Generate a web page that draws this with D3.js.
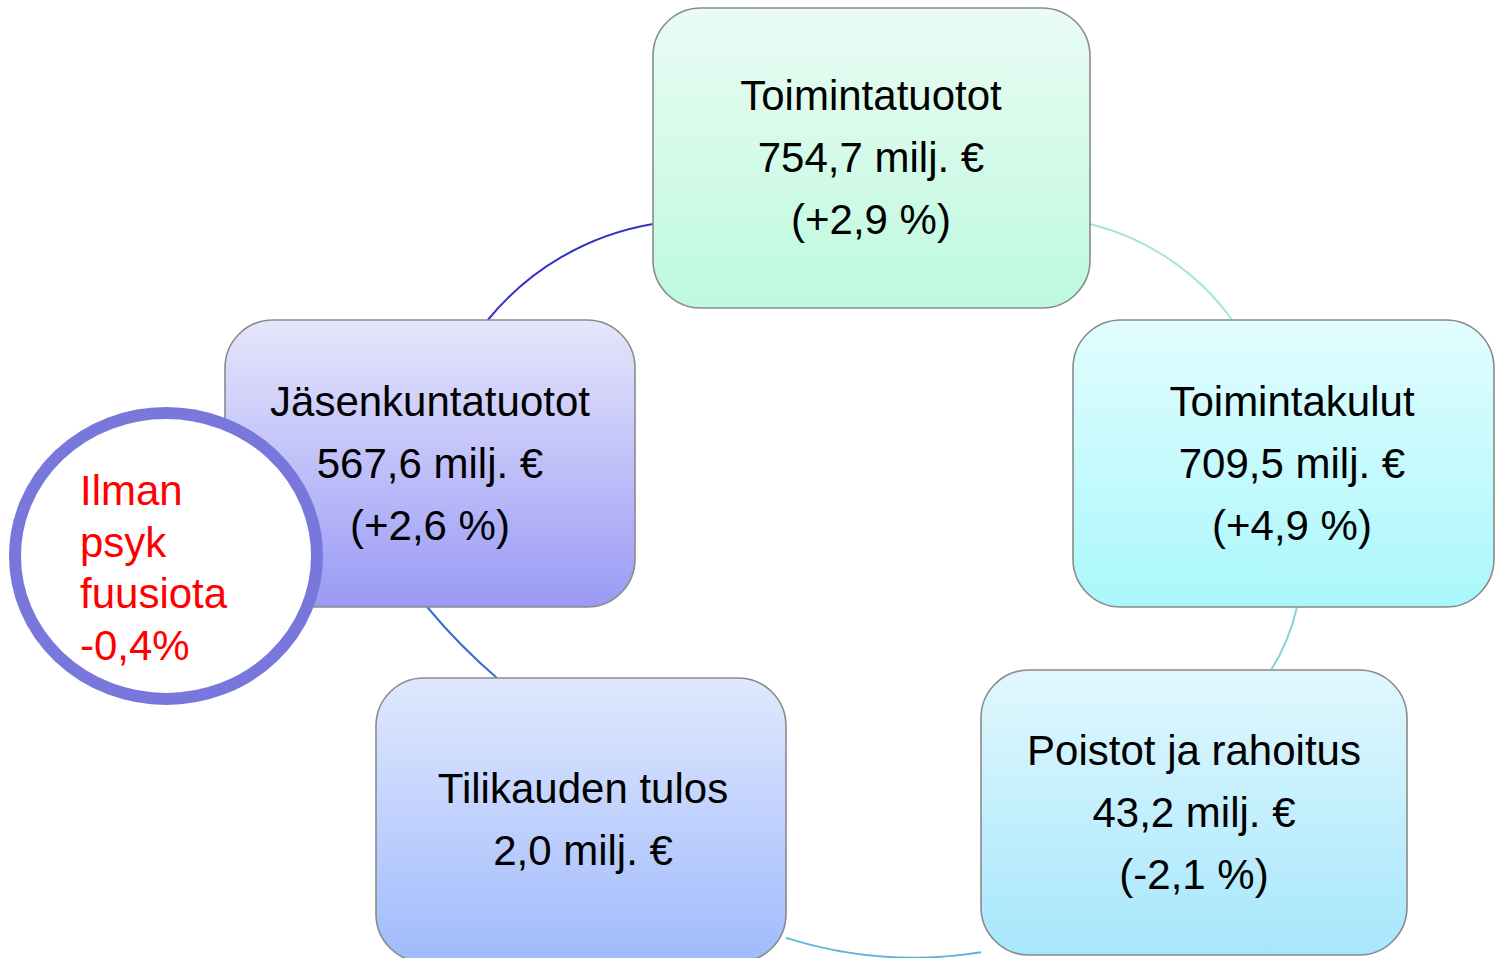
<!DOCTYPE html>
<html><head><meta charset="utf-8">
<script src="https://cdn.jsdelivr.net/npm/d3@7"></script>
<style>body{margin:0;background:#fff;overflow:hidden}svg{display:block}</style>
</head><body><svg id="c" width="1495" height="958"></svg>
<script>
// ---- data ----
const labels  = ["Toimintatuotot", "Toimintakulut", "Poistot ja rahoitus", "Tilikauden tulos", "Jäsenkuntatuotot"];
const values  = [754.7, 709.5, 43.2, 2.0, 567.6];          // milj. €
const changes = [2.9, 4.9, -2.1, null, 2.6];               // % change
const noteLines = ["Ilman", "psyk", "fuusiota"];
const noteValue = -0.4;                                     // % without psych fusion

// ---- layout (positions / styles) ----
const boxes = [
  {x: 653,  y: 8,   w: 437, h: 300, tx: 871,  c0: "#eafcf4", c1: "#bdf9de"},
  {x: 1073, y: 320, w: 421, h: 287, tx: 1292, c0: "#e2fdff", c1: "#aaf7fb"},
  {x: 981,  y: 670, w: 426, h: 285, tx: 1194, c0: "#e1f7fe", c1: "#a6e7fc"},
  {x: 376,  y: 678, w: 410, h: 284, tx: 583,  c0: "#dfe8fe", c1: "#a0bafb"},
  {x: 225,  y: 320, w: 410, h: 287, tx: 430,  c0: "#e6e6fc", c1: "#9a9af6"}
];
const connectors = [
  {from: 4, fs: "top",    ft: 0.641, to: 0, ts: "left",  tt: 0.72,  r: 271, color: "#3232c8"},
  {from: 0, fs: "right",  ft: 0.72,  to: 1, ts: "top",   tt: 0.378, r: 248, color: "#a6e6d2"},
  {from: 1, fs: "bottom", ft: 0.532, to: 2, ts: "top",   tt: 0.681, r: 200, color: "#7ed8d6"},
  {from: 2, fs: "left",   ft: 0.99,  to: 3, ts: "right", tt: 0.915, r: 424, color: "#5cb2da"},
  {from: 3, fs: "top",    ft: 0.295, to: 4, ts: "bottom",tt: 0.493, r: 600, color: "#3a6ed0"}
];

const fi = d3.formatLocale({decimal: ",", thousands: "\u00a0", grouping: [3], currency: ["", " €"], minus: "-"});
const fVal = fi.format(".1f");
const fChg = fi.format("+.1f");

const svg = d3.select("#c");
const defs = svg.append("defs");
boxes.forEach((b, i) => {
  const g = defs.append("linearGradient").attr("id", "g" + i)
    .attr("x1", 0).attr("y1", 0).attr("x2", 0).attr("y2", 1);
  g.append("stop").attr("offset", "0%").attr("stop-color", b.c0);
  g.append("stop").attr("offset", "100%").attr("stop-color", b.c1);
});

function edgePoint(b, side, t) {
  if (side === "top") return [b.x + t * b.w, b.y];
  if (side === "bottom") return [b.x + t * b.w, b.y + b.h];
  if (side === "left") return [b.x, b.y + t * b.h];
  return [b.x + b.w, b.y + t * b.h];
}

// connectors (drawn under the boxes)
svg.append("g").selectAll("path").data(connectors).join("path")
  .attr("d", c => {
    const p0 = edgePoint(boxes[c.from], c.fs, c.ft);
    const p1 = edgePoint(boxes[c.to], c.ts, c.tt);
    return `M${p0[0]},${p0[1]} A${c.r},${c.r} 0 0 1 ${p1[0]},${p1[1]}`;
  })
  .attr("fill", "none")
  .attr("stroke", c => c.color)
  .attr("stroke-width", 2);

// boxes
const nodes = svg.append("g").selectAll("g").data(labels).join("g");
nodes.append("rect")
  .attr("x", (d, i) => boxes[i].x).attr("y", (d, i) => boxes[i].y)
  .attr("width", (d, i) => boxes[i].w).attr("height", (d, i) => boxes[i].h)
  .attr("rx", 48).attr("ry", 48)
  .attr("fill", (d, i) => `url(#g${i})`)
  .attr("stroke", "#8a8a8a").attr("stroke-width", 1.6);

const lineH = 62;
nodes.each(function(d, i) {
  const b = boxes[i];
  const lines = [d, fVal(values[i]) + " milj. €"];
  if (changes[i] !== null) lines.push("(" + fChg(changes[i]) + " %)");
  const cy = b.y + b.h / 2;
  const first = cy + 14 - (lines.length - 1) / 2 * lineH;
  d3.select(this).append("g").selectAll("text").data(lines).join("text")
    .attr("x", b.tx)
    .attr("y", (t, k) => first + k * lineH)
    .attr("text-anchor", "middle")
    .attr("font-family", "'Liberation Sans', Arial, sans-serif")
    .attr("font-size", 42)
    .attr("fill", "#000")
    .text(t => t);
});

// note circle
const note = svg.append("g");
note.append("ellipse")
  .attr("cx", 166).attr("cy", 556).attr("rx", 151).attr("ry", 143)
  .attr("fill", "#fff").attr("stroke", "#7878dc").attr("stroke-width", 12);
const noteAll = noteLines.concat([fVal(noteValue) + "%"]);
note.selectAll("text").data(noteAll).join("text")
  .attr("x", 80)
  .attr("y", (t, k) => 505 + k * 51.5)
  .attr("font-family", "'Liberation Sans', Arial, sans-serif")
  .attr("font-size", 42)
  .attr("fill", "#ff0000")
  .text(t => t);
</script>
</body></html>
